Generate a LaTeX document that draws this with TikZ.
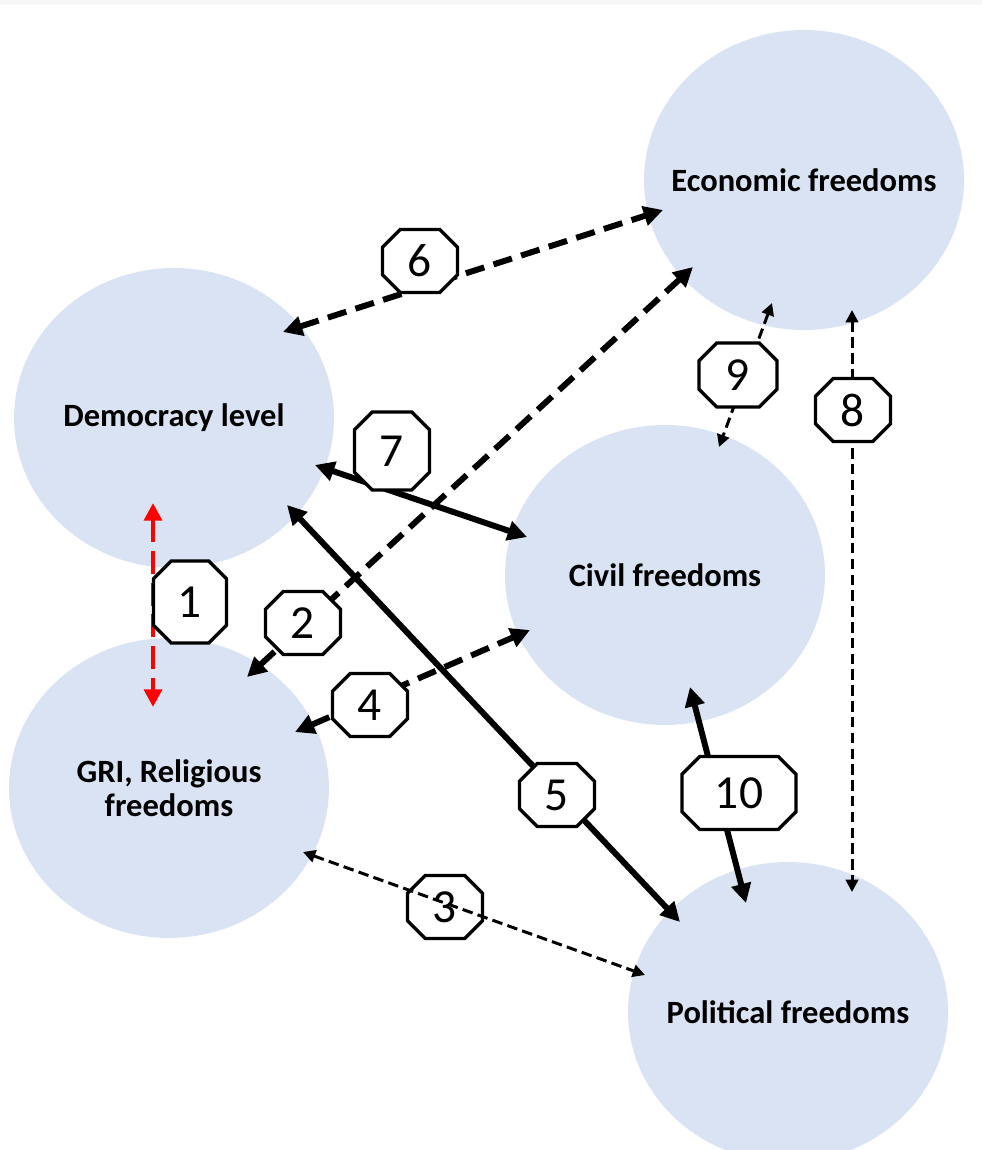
\documentclass[tikz,border=0pt]{standalone}
\usepackage{fontspec}
\setmainfont{Carlito}
\usepackage{tikz}
\usetikzlibrary{arrows.meta,shapes,positioning}
\definecolor{frcircle}{RGB}{218,227,243}
\definecolor{frstrip}{RGB}{246,246,246}
\definecolor{frred}{RGB}{255,0,0}
\tikzstyle{freecircle} = [ellipse, inner sep=-3cm, minimum width=6.4cm, minimum height=6cm, fill=frcircle, align=center, font=\fontsize{18.5}{19.5}\selectfont\bfseries]
\tikzstyle{numbox} = [rectangle, inner sep=0pt, minimum width=1.59cm, minimum height=1.35cm, font=\fontsize{27}{30}\selectfont,
  path picture={\draw[line width=1.9pt, fill=white]
    ([shift={(0.4cm,-0.045cm)}]path picture bounding box.north west) -- ([shift={(-0.4cm,-0.045cm)}]path picture bounding box.north east)
    -- ([shift={(-0.045cm,-0.4cm)}]path picture bounding box.north east) -- ([shift={(-0.045cm,0.4cm)}]path picture bounding box.south east)
    -- ([shift={(-0.4cm,0.045cm)}]path picture bounding box.south east) -- ([shift={(0.4cm,0.045cm)}]path picture bounding box.south west)
    -- ([shift={(0.045cm,0.4cm)}]path picture bounding box.south west) -- ([shift={(0.045cm,-0.4cm)}]path picture bounding box.north west) -- cycle;}]
\tikzstyle{bigarrow} = [line width=3.4pt, {Triangle[length=11pt,width=11pt]}-{Triangle[length=11pt,width=11pt]}]
\tikzstyle{bigdash} = [bigarrow, dash pattern=on 11pt off 5.5pt]
\tikzstyle{thindash} = [line width=1.7pt, dash pattern=on 6pt off 3pt, {Triangle[length=7pt,width=7pt]}-{Triangle[length=7pt,width=7pt]}]
\tikzstyle{reddash} = [line width=2.8pt, color=frred, dash pattern=on 13pt off 5pt, {Triangle[length=10pt,width=10pt]}-{Triangle[length=10pt,width=10pt]}]

\begin{document}
\begin{tikzpicture}[x=0.02cm, y=-0.02cm]
\clip (0,0) rectangle (982,1150);
\fill[frstrip] (0,0) rectangle (982,5);

\node[freecircle] (eco) at (804,180) {Economic freedoms};
\node[freecircle] (dem) at (174,418) {Democracy level};
\node[freecircle] (civ) at (665,575) {Civil freedoms};
\node[freecircle] (gri) at (169,788) {GRI, Religious\\freedoms};
\node[freecircle] (pol) at (788,1012) {Political freedoms};

% ends of the links
\coordinate (dem1) at (153,503);  \coordinate (gri1) at (153,707);
\coordinate (gri2) at (247,677);  \coordinate (eco2) at (693,267);
\coordinate (gri3) at (303,852);  \coordinate (pol3) at (645,975);
\coordinate (gri4) at (295,732);  \coordinate (civ4) at (530,630);
\coordinate (dem5) at (287,505);  \coordinate (pol5) at (680,922);
\coordinate (dem6) at (283,332);  \coordinate (eco6) at (663,210);
\coordinate (dem7) at (315,465);  \coordinate (civ7) at (527,537);
\coordinate (eco8) at (852,310);  \coordinate (pol8) at (852,892);
\coordinate (eco9) at (772,303);  \coordinate (civ9) at (719,447);
\coordinate (civ10) at (690,687); \coordinate (pol10) at (746,903);

\node[numbox] (n3) at (445,907) {3};

\draw[reddash] (dem1) -- (gri1);
\draw[bigdash] (gri2) -- (eco2);
\draw[thindash] (gri3) -- (pol3);
\draw[bigdash] (gri4) -- (civ4);
\draw[bigarrow] (dem5) -- (pol5);
\draw[bigdash] (dem6) -- (eco6);
\draw[bigarrow] (dem7) -- (civ7);
\draw[thindash] (eco8) -- (pol8);
\draw[thindash] (eco9) -- (civ9);
\draw[bigarrow] (civ10) -- (pol10);

\node[numbox, minimum width=1.55cm, minimum height=1.73cm] (n1) at (190,602) {1};
\node[numbox] (n2) at (303,623) {2};
\node[numbox] (n4) at (370,705) {4};
\node[numbox] (n5) at (557,795) {5};
\node[numbox] (n6) at (420,261) {6};
\node[numbox, minimum height=1.65cm] (n7) at (392,451) {7};
\node[numbox] (n8) at (853,410) {8};
\node[numbox, minimum width=1.65cm, minimum height=1.37cm] (n9) at (738,375) {9};
\node[numbox, minimum width=2.37cm, minimum height=1.55cm] (n10) at (739,793) {10};
\end{tikzpicture}
\end{document}
